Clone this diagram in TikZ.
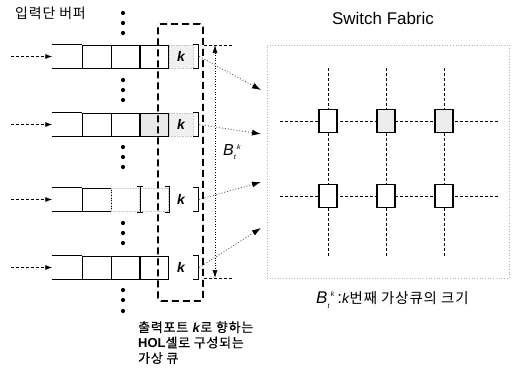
\documentclass[tikz,border=0pt]{standalone}
\usepackage{fontspec}
\setmainfont{Liberation Sans}
\newfontfamily\kr[LetterSpace=6]{Noto Sans CJK KR}
\newfontfamily\krb[LetterSpace=6, FakeBold=0.6]{Noto Sans CJK KR}
\usetikzlibrary{arrows.meta, positioning}

\newcommand{\Btk}{\textit{B}\raisebox{-0.5ex}{\scriptsize\textit{t}}\raisebox{0.8ex}{\scriptsize\,\textit{k}}}

\begin{document}
\begin{tikzpicture}[
      x=1bp, y=-1bp,
      every node/.style={inner sep=0pt},
      cell/.style={draw, line width=0.9bp, minimum width=28.5bp, minimum height=23bp},
      holcell/.style={cell, fill=gray!18},
      gonecell/.style={draw=gray!45, densely dotted, line width=0.6bp, minimum width=28.5bp, minimum height=23bp},
      kcell/.style={minimum width=24bp, minimum height=23bp, font=\bfseries\itshape\fontsize{14}{14}\selectfont},
      stip/.style={fill=gray!12, draw=gray!45, densely dotted, line width=0.6bp},
      brk/.style={line width=0.9bp},
      inarrow/.style={-{Latex[length=7bp,width=5bp]}, densely dashed, line width=0.8bp},
      link/.style={-{Latex[length=9bp,width=6bp,black]}, dotted, line width=0.9bp, black!65},
      holbox/.style={draw, line width=1.8bp, dash pattern=on 7bp off 4bp, rounded corners=3bp, minimum width=45bp, minimum height=277bp},
      fabric/.style={draw=gray!60, dotted, line width=0.7bp, minimum width=242bp, minimum height=233bp},
      gridline/.style={dash pattern=on 3bp off 2bp, line width=0.8bp},
      xpt/.style={draw, line width=1.2bp, fill=white, minimum width=18bp, minimum height=23bp},
      xptg/.style={xpt, fill=gray!15}
    ]
      \useasboundingbox (0,0) rectangle (518,376);

      % Input buffer title
      \node[anchor=west, font=\kr\fontsize{14}{14}\selectfont] (inbuf) at (15,13) {입력단 버퍼};

      % Row 1
      \node[cell] (q1a) at (97,56.5) {};
      \node[cell] (q1b) at (125.5,56.5) {};
      \node[cell] (q1c) at (154.5,56.5) {};
      \node[kcell, stip] (q1k) at (181,56.5) {k};

      % Row 2
      \node[cell] (q2a) at (97,124.5) {};
      \node[cell] (q2b) at (125.5,124.5) {};
      \node[holcell] (q2c) at (154.5,124.5) {};
      \node[kcell, stip] (q2k) at (181,124.5) {k};

      % Row 3: empty HOL cells
      \node[cell] (q3a) at (97,199.5) {};
      \node[gonecell] (q3b) at (125.5,199.5) {};
      \node[gonecell] (q3c) at (154.5,199.5) {};
      \node[kcell] (q3k) at (181,199.5) {k};
      \draw[brk] ([xshift=-3bp,yshift=1bp]q3c.north west) -- ++(6,0)
                 ([xshift=-3bp,yshift=-1bp]q3c.south west) -- ++(6,0)
                 ([yshift=1bp]q3c.north west) -- ([yshift=-1bp]q3c.south west);
      \draw[brk] ([xshift=-4bp,yshift=1bp]q3c.north east) -| ([yshift=-1bp]q3c.south east) -- ++(-4,0);

      % Row 4
      \node[cell] (q4a) at (97,267.5) {};
      \node[cell] (q4b) at (125.5,267.5) {};
      \node[cell] (q4c) at (154.5,267.5) {};
      \node[kcell] (q4k) at (181,267.5) {k};

      % Open tails, input arrows, brackets and links to the fabric
      \foreach \r/\t in {1/90, 2/134, 3/182, 4/228} {
        \draw[line width=0.9bp] (q\r a.north west) -- ++(-30,0)
                                (q\r a.south west) -- ++(-30,0);
        \coordinate (in\r) at ([xshift=-71bp]q\r a.west);
        \coordinate (tail\r) at ([xshift=-30bp]q\r a.west);
        \draw[inarrow] (in\r) -- (tail\r);
        \draw[brk] (q\r k.north east) -| ([xshift=5bp]q\r k.south east) -- (q\r k.south east);
        \coordinate (b\r) at ([xshift=6bp]q\r k.east);
        \coordinate (f\r) at (261,\t);
        \draw[link] (b\r) -- (f\r);
      }

      % Dots between the queues
      \foreach \y in {13,23,33, 80,90,100, 147,157,167, 223,233,243, 290,300,311}
        \fill (123,\y) circle (2.1bp);

      % Virtual queue of HOL cells
      \node[holbox] (vq) at (180.5,162.5) {};

      % Size of the virtual queue
      \coordinate (dtop) at (215,45);
      \coordinate (dbot) at (215,278);
      \draw[densely dashed, line width=0.8bp] (vq.east |- dtop) -- ++(29,0)
                                               (vq.east |- dbot) -- ++(29,0);
      \draw[{Latex[length=8bp,width=5bp]}-{Latex[length=8bp,width=5bp]}, dotted, line width=0.6bp] (dtop) -- (dbot);
      \node[font=\fontsize{16}{16}\selectfont] (btk) at (232,152) {\Btk};

      % Switch fabric
      \node[font=\fontsize{17}{17}\selectfont] (sftitle) at (383,18) {Switch Fabric};
      \node[fabric] (sf) at (388,161.5) {};
      \foreach \x in {328,386,444}
        \draw[gridline] (\x,68) -- (\x,257);
      \foreach \y in {121,196}
        \draw[gridline] (280,\y) -- (500,\y);
      \node[xpt] (x11) at (328,121) {};
      \node[xptg] (x12) at (386,121) {};
      \node[xptg] (x13) at (444,121) {};
      \node[xpt] (x21) at (328,196) {};
      \node[xpt] (x22) at (386,196) {};
      \node[xpt] (x23) at (444,196) {};

      % Captions
      \node[anchor=west, font=\fontsize{17}{17}\selectfont] (note) at (316,300) {\Btk\,:{\fontsize{14}{14}\selectfont\textit{k}}{\kr\fontsize{14.5}{14.5}\selectfont 번째 가상큐의 크기}};
      \node[anchor=north west, align=left, font=\fontsize{13}{15.5}\selectfont] (vqlabel) at (138,321)
        {{\krb 출력포트 }\textbf{\textit{k}}{\krb 로 향하는}\\\textbf{HOL}{\krb 셀로 구성되는}\\{\krb 가상 큐}};
    \end{tikzpicture}
\end{document}
